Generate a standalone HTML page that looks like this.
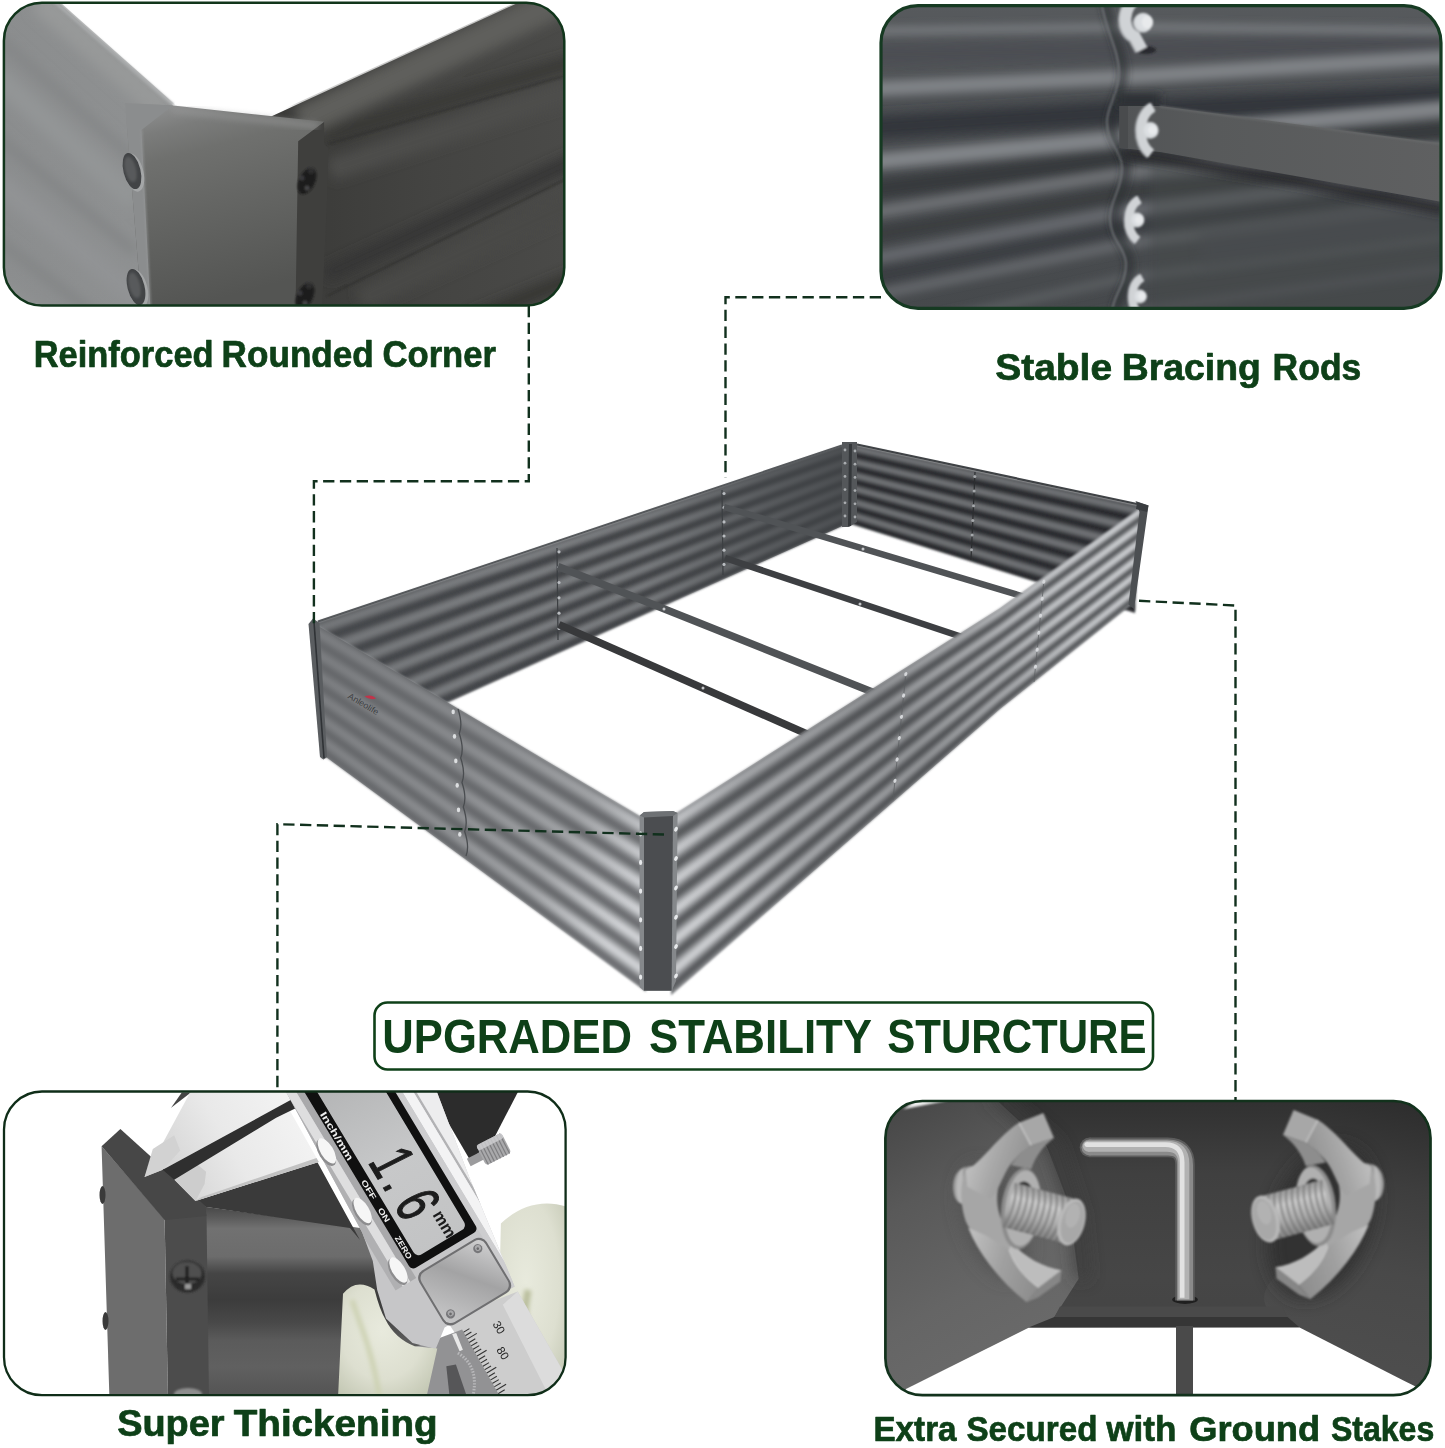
<!DOCTYPE html>
<html lang="en"><head><meta charset="utf-8"><title>Upgraded Stability Structure</title>
<style>
html,body{margin:0;padding:0;background:#fff;}
body{width:1445px;height:1448px;overflow:hidden;}
svg{display:block;}
</style></head><body>
<svg width="1445" height="1448" viewBox="0 0 1445 1448">
<defs>
<linearGradient id="ovFL" gradientUnits="userSpaceOnUse" x1="318" y1="690" x2="640" y2="900"><stop offset="0" stop-color="#646669" stop-opacity="0.78"/><stop offset="0.44" stop-color="#66686b" stop-opacity="0.66"/><stop offset="0.75" stop-color="#626467" stop-opacity="0.42"/><stop offset="0.93" stop-color="#626467" stop-opacity="0.08"/><stop offset="1" stop-color="#626467" stop-opacity="0"/></linearGradient><linearGradient id="ovFR" gradientUnits="userSpaceOnUse" x1="676" y1="900" x2="1136" y2="560"><stop offset="0" stop-color="#4c4e51" stop-opacity="0"/><stop offset="0.06" stop-color="#4c4e51" stop-opacity="0.05"/><stop offset="0.22" stop-color="#4c4e51" stop-opacity="0.32"/><stop offset="0.5" stop-color="#494b4e" stop-opacity="0.46"/><stop offset="0.7" stop-color="#505255" stop-opacity="0.3"/><stop offset="0.83" stop-color="#55575a" stop-opacity="0.1"/><stop offset="1" stop-color="#5d5f62" stop-opacity="0"/></linearGradient><linearGradient id="ovBL" gradientUnits="userSpaceOnUse" x1="318" y1="0" x2="848" y2="0"><stop offset="0" stop-color="#55585b" stop-opacity="0.25"/><stop offset="0.35" stop-color="#4a4d50" stop-opacity="0.05"/><stop offset="0.62" stop-color="#404346" stop-opacity="0.1"/><stop offset="0.85" stop-color="#404346" stop-opacity="0.6"/><stop offset="1" stop-color="#3e4144" stop-opacity="0.78"/></linearGradient><filter id="b1" x="-5%" y="-5%" width="110%" height="110%"><feGaussianBlur stdDeviation="0.9"/></filter>
<clipPath id="cp1"><rect x="3.9" y="2.8" width="560.4" height="302.8" rx="38" ry="38"/></clipPath><filter id="p1b6" x="-20%" y="-20%" width="140%" height="140%"><feGaussianBlur stdDeviation="6"/></filter><filter id="p1b3" x="-20%" y="-20%" width="140%" height="140%"><feGaussianBlur stdDeviation="3"/></filter><filter id="p1b1" x="-20%" y="-20%" width="140%" height="140%"><feGaussianBlur stdDeviation="1.2"/></filter><linearGradient id="p1cap" x1="0" y1="0" x2="0.25" y2="1"><stop offset="0" stop-color="#949595"/><stop offset="0.08" stop-color="#8a8b8b"/><stop offset="0.17" stop-color="#7b7c7b"/><stop offset="0.3" stop-color="#6f706e"/><stop offset="0.55" stop-color="#656664"/><stop offset="1" stop-color="#545553"/></linearGradient><linearGradient id="p1lw" x1="0" y1="0" x2="1" y2="0"><stop offset="0" stop-color="#8b8d8e"/><stop offset="1" stop-color="#8f9192"/></linearGradient><linearGradient id="p1rw" gradientUnits="userSpaceOnUse" x1="300" y1="100" x2="565" y2="100"><stop offset="0" stop-color="#3b3b39"/><stop offset="0.5" stop-color="#444442"/><stop offset="1" stop-color="#4a4a48"/></linearGradient>
<clipPath id="cp2"><rect x="881" y="5.7" width="560" height="302.6" rx="37" ry="37"/></clipPath><filter id="p2b8" filterUnits="userSpaceOnUse" x="850" y="-40" width="640" height="400"><feGaussianBlur stdDeviation="6"/></filter><filter id="p2b4" filterUnits="userSpaceOnUse" x="850" y="-40" width="640" height="400"><feGaussianBlur stdDeviation="4.2"/></filter><filter id="p2b1" filterUnits="userSpaceOnUse" x="850" y="-40" width="640" height="400"><feGaussianBlur stdDeviation="0.8"/></filter><linearGradient id="p2bg" x1="0" y1="0" x2="0" y2="1"><stop offset="0" stop-color="#575a5d"/><stop offset="0.3" stop-color="#4e5154"/><stop offset="1" stop-color="#46494c"/></linearGradient><linearGradient id="p2bar" gradientUnits="userSpaceOnUse" x1="1120" y1="0" x2="1442" y2="0"><stop offset="0" stop-color="#525456"/><stop offset="0.3" stop-color="#585a5b"/><stop offset="1" stop-color="#5f6061"/></linearGradient><g id="wnut1" fill="none"><path d="M-2 -27 C-21 -18 -22 8 -8 14 L-1 27" stroke="#a4a7ab" stroke-width="13" transform="translate(-1,0.5)"/><path d="M-2 -27 C-21 -18 -22 8 -8 14 L-1 27" stroke="#d0d3d6" stroke-width="11.5"/><circle cx="0" cy="0" r="9.8" fill="#d2d5d8"/><circle cx="1" cy="-0.5" r="8.2" fill="#dcdfe2"/><ellipse cx="4.5" cy="-0.5" rx="5.6" ry="6.6" fill="#e8eaec"/></g><g id="wnut" fill="none"><path d="M3 -24 C-13 -15 -13 13 1 23.5" stroke="#a4a7ab" stroke-width="11" transform="translate(-1,0.5)"/><path d="M3 -24 C-13 -15 -13 13 1 23.5" stroke="#d0d3d6" stroke-width="9.6"/><circle cx="0" cy="0" r="8.6" fill="#d2d5d8"/><circle cx="0.8" cy="-0.3" r="7.2" fill="#dcdfe2"/><circle cx="2.5" cy="-0.3" r="4.6" fill="#e8eaec"/></g>
<clipPath id="cp3"><rect x="4" y="1091.5" width="561.6" height="303.7" rx="38" ry="38"/></clipPath><filter id="p3b5" filterUnits="userSpaceOnUse" x="-20" y="1060" width="620" height="370"><feGaussianBlur stdDeviation="5"/></filter><filter id="p3b2" filterUnits="userSpaceOnUse" x="-20" y="1060" width="620" height="370"><feGaussianBlur stdDeviation="2"/></filter><filter id="p3b1" filterUnits="userSpaceOnUse" x="-20" y="1060" width="620" height="370"><feGaussianBlur stdDeviation="0.8"/></filter><linearGradient id="p3wall" gradientUnits="userSpaceOnUse" x1="0" y1="1206" x2="0" y2="1393"><stop offset="0" stop-color="#474747"/><stop offset="0.06" stop-color="#5a5a5a"/><stop offset="0.12" stop-color="#717171"/><stop offset="0.27" stop-color="#6c6c6c"/><stop offset="0.36" stop-color="#454545"/><stop offset="0.5" stop-color="#3c3c3c"/><stop offset="0.62" stop-color="#484848"/><stop offset="0.72" stop-color="#5b5b5b"/><stop offset="0.86" stop-color="#606060"/><stop offset="1" stop-color="#555555"/></linearGradient><linearGradient id="p3body" gradientUnits="userSpaceOnUse" x1="0" y1="30" x2="0" y2="-115"><stop offset="0" stop-color="#b9b9bb"/><stop offset="0.1" stop-color="#e4e4e6"/><stop offset="0.2" stop-color="#c2c2c4"/><stop offset="0.75" stop-color="#cfcfd1"/><stop offset="0.85" stop-color="#f2f2f3"/><stop offset="1" stop-color="#c9c9cb"/></linearGradient><linearGradient id="p3lcd" gradientUnits="userSpaceOnUse" x1="-200" y1="0" x2="0" y2="0"><stop offset="0" stop-color="#b4b5b6"/><stop offset="0.5" stop-color="#c7c8c9"/><stop offset="1" stop-color="#c2c3c4"/></linearGradient><linearGradient id="p3plate" gradientUnits="userSpaceOnUse" x1="8" y1="-77" x2="67" y2="-3"><stop offset="0" stop-color="#d2d2d3"/><stop offset="0.45" stop-color="#a3a3a4"/><stop offset="1" stop-color="#c8c8c9"/></linearGradient><linearGradient id="p3jaw" gradientUnits="userSpaceOnUse" x1="150" y1="1180" x2="300" y2="1095"><stop offset="0" stop-color="#cfcfcf"/><stop offset="0.5" stop-color="#e9e9e9"/><stop offset="1" stop-color="#f4f4f4"/></linearGradient><radialGradient id="p3glv" cx="0.45" cy="0.4" r="0.7"><stop offset="0" stop-color="#e8eadd"/><stop offset="0.6" stop-color="#dddfd0"/><stop offset="1" stop-color="#c3c7b3"/></radialGradient>
<clipPath id="cp4"><rect x="885.4" y="1101" width="545.1" height="294.2" rx="37" ry="37"/></clipPath><filter id="p4b8" filterUnits="userSpaceOnUse" x="860" y="1080" width="600" height="340"><feGaussianBlur stdDeviation="8"/></filter><filter id="p4b3" filterUnits="userSpaceOnUse" x="860" y="1080" width="600" height="340"><feGaussianBlur stdDeviation="3"/></filter><filter id="p4b1" filterUnits="userSpaceOnUse" x="860" y="1080" width="600" height="340"><feGaussianBlur stdDeviation="0.9"/></filter><filter id="p4b05" filterUnits="userSpaceOnUse" x="860" y="1080" width="600" height="340"><feGaussianBlur stdDeviation="0.5"/></filter><linearGradient id="p4bg" x1="0" y1="0" x2="0" y2="1"><stop offset="0" stop-color="#303030"/><stop offset="0.25" stop-color="#404040"/><stop offset="0.6" stop-color="#464646"/><stop offset="1" stop-color="#414141"/></linearGradient><linearGradient id="p4lw" gradientUnits="userSpaceOnUse" x1="890" y1="1110" x2="1040" y2="1370"><stop offset="0" stop-color="#474747"/><stop offset="0.3" stop-color="#595959"/><stop offset="0.65" stop-color="#656565"/><stop offset="1" stop-color="#6b6b6b"/></linearGradient><linearGradient id="p4rw" gradientUnits="userSpaceOnUse" x1="1400" y1="1100" x2="1340" y2="1380"><stop offset="0" stop-color="#2d2d2d"/><stop offset="0.3" stop-color="#3e3e3e"/><stop offset="0.6" stop-color="#494949"/><stop offset="1" stop-color="#4e4e4e"/></linearGradient><linearGradient id="p4keyh" x1="0" y1="0" x2="0" y2="1"><stop offset="0" stop-color="#8c8c8c"/><stop offset="0.25" stop-color="#e6e6e6"/><stop offset="0.55" stop-color="#b5b5b5"/><stop offset="1" stop-color="#6e6e6e"/></linearGradient><linearGradient id="p4keyv" x1="0" y1="0" x2="1" y2="0"><stop offset="0" stop-color="#7a7a7a"/><stop offset="0.3" stop-color="#e9e9e9"/><stop offset="0.6" stop-color="#b0b0b0"/><stop offset="1" stop-color="#757575"/></linearGradient><linearGradient id="p4bolt" x1="0" y1="0" x2="0" y2="1"><stop offset="0" stop-color="#8a8a8a"/><stop offset="0.3" stop-color="#c9c9c9"/><stop offset="0.65" stop-color="#a5a5a5"/><stop offset="1" stop-color="#6c6c6c"/></linearGradient><linearGradient id="p4wing" x1="0" y1="0.3" x2="1" y2="0.7"><stop offset="0" stop-color="#c6c6c6"/><stop offset="0.45" stop-color="#a8a8a8"/><stop offset="1" stop-color="#8c8c8c"/></linearGradient><linearGradient id="p4wing2" x1="0" y1="0.3" x2="1" y2="0.6"><stop offset="0" stop-color="#bdbdbd"/><stop offset="0.5" stop-color="#a0a0a0"/><stop offset="1" stop-color="#8e8e8e"/></linearGradient><g id="bignut"><g transform="scale(0.15198)"><path d="M175 440 C110 450 78 520 88 600 C95 655 120 692 185 692 Z" fill="#9b9b9b"/><path d="M150 450 C118 470 100 540 108 610 C112 650 125 675 150 685 Z" fill="#b9b9b9"/><path d="M180 440 C140 520 120 640 170 800 C200 870 250 910 300 915 L470 1000 L480 900 C380 800 350 650 400 520 L330 415 Z" fill="#a6a6a6"/><path d="M170 462 C230 440 300 350 400 250 C440 210 480 175 520 150 L600 300 C540 340 470 400 430 480 C400 540 380 600 330 650 L180 570 Z" fill="url(#p4wing)"/><path d="M520 150 L680 85 L750 250 L600 300 Z" fill="#a7a7a7"/><path d="M520 150 L600 300" stroke="#d4d4d4" stroke-width="7" fill="none"/><path d="M600 300 L750 250 C670 310 625 380 600 455 L468 430 C510 365 550 330 600 300 Z" fill="#8d8d8d"/><path d="M185 840 C250 1000 380 1180 570 1330 L650 1235 C560 1170 490 1090 455 985 L300 890 Z" fill="url(#p4wing2)"/><path d="M455 985 C490 1090 560 1170 650 1235 L800 1120 C680 1100 560 1040 470 935 Z" fill="#bdbdbd"/><path d="M455 985 C490 1090 560 1170 650 1235" stroke="#d6d6d6" stroke-width="6" fill="none"/><path d="M650 1235 L800 1120 L792 1195 L645 1300 L570 1330 Z" fill="#868686"/><ellipse cx="535" cy="715" rx="132" ry="268" fill="#8c8c8c" transform="rotate(6 535 715)"/><ellipse cx="546" cy="712" rx="116" ry="250" fill="#b0b0b0" transform="rotate(6 546 712)"/><ellipse cx="540" cy="700" rx="80" ry="165" fill="#303030" transform="rotate(6 540 700)"/><g transform="translate(452,690) rotate(15)"><rect x="0" y="-150" width="430" height="300" fill="url(#p4bolt)"/><path d="M10 -150 C38 -60 38 60 10 150" stroke="#808080" stroke-width="11" fill="none"/><path d="M24 -150 C52 -60 52 60 24 150" stroke="#c4c4c4" stroke-width="6" fill="none" opacity="0.7"/><path d="M50 -150 C78 -60 78 60 50 150" stroke="#808080" stroke-width="11" fill="none"/><path d="M64 -150 C92 -60 92 60 64 150" stroke="#c4c4c4" stroke-width="6" fill="none" opacity="0.7"/><path d="M90 -150 C118 -60 118 60 90 150" stroke="#808080" stroke-width="11" fill="none"/><path d="M104 -150 C132 -60 132 60 104 150" stroke="#c4c4c4" stroke-width="6" fill="none" opacity="0.7"/><path d="M130 -150 C158 -60 158 60 130 150" stroke="#808080" stroke-width="11" fill="none"/><path d="M144 -150 C172 -60 172 60 144 150" stroke="#c4c4c4" stroke-width="6" fill="none" opacity="0.7"/><path d="M170 -150 C198 -60 198 60 170 150" stroke="#808080" stroke-width="11" fill="none"/><path d="M184 -150 C212 -60 212 60 184 150" stroke="#c4c4c4" stroke-width="6" fill="none" opacity="0.7"/><path d="M210 -150 C238 -60 238 60 210 150" stroke="#808080" stroke-width="11" fill="none"/><path d="M224 -150 C252 -60 252 60 224 150" stroke="#c4c4c4" stroke-width="6" fill="none" opacity="0.7"/><path d="M250 -150 C278 -60 278 60 250 150" stroke="#808080" stroke-width="11" fill="none"/><path d="M264 -150 C292 -60 292 60 264 150" stroke="#c4c4c4" stroke-width="6" fill="none" opacity="0.7"/><path d="M290 -150 C318 -60 318 60 290 150" stroke="#808080" stroke-width="11" fill="none"/><path d="M304 -150 C332 -60 332 60 304 150" stroke="#c4c4c4" stroke-width="6" fill="none" opacity="0.7"/><path d="M330 -150 C358 -60 358 60 330 150" stroke="#808080" stroke-width="11" fill="none"/><path d="M344 -150 C372 -60 372 60 344 150" stroke="#c4c4c4" stroke-width="6" fill="none" opacity="0.7"/><path d="M370 -150 C398 -60 398 60 370 150" stroke="#808080" stroke-width="11" fill="none"/><path d="M384 -150 C412 -60 412 60 384 150" stroke="#c4c4c4" stroke-width="6" fill="none" opacity="0.7"/><ellipse cx="428" cy="2" rx="88" ry="158" fill="#b9b9b9"/><ellipse cx="436" cy="2" rx="72" ry="140" fill="#a8a8a8"/><ellipse cx="425" cy="-40" rx="45" ry="80" fill="#b6b6b6" opacity="0.7"/></g></g></g>
</defs>
<rect width="1445" height="1448" fill="#ffffff"/>
<g filter="url(#b1)"><polygon points="314.0,623.3 848.0,444.0 847.9,446.3 314.2,627.2" fill="#606265" /><polygon points="314.1,625.6 848.0,445.3 847.9,447.6 314.4,629.4" fill="#727477" /><polygon points="314.3,627.8 847.9,446.7 847.9,449.0 314.5,631.7" fill="#7d7f82" /><polygon points="314.4,630.1 847.9,448.0 847.8,450.3 314.6,634.0" fill="#7d7f82" /><polygon points="314.5,632.3 847.9,449.4 847.8,451.7 314.8,636.2" fill="#727477" /><polygon points="314.7,634.6 847.8,450.7 847.8,453.0 314.9,638.5" fill="#606265" /><polygon points="314.8,636.8 847.8,452.0 847.7,454.3 315.0,640.7" fill="#4e5053" /><polygon points="314.9,639.1 847.8,453.4 847.7,455.7 315.2,643.0" fill="#434548" /><polygon points="315.1,641.4 847.7,454.7 847.7,457.0 315.3,645.3" fill="#434548" /><polygon points="315.2,643.6 847.7,456.0 847.6,458.3 315.4,647.5" fill="#4e5053" /><polygon points="315.3,645.9 847.7,457.4 847.6,459.7 315.6,649.8" fill="#606265" /><polygon points="315.5,648.1 847.6,458.7 847.6,461.0 315.7,652.0" fill="#727477" /><polygon points="315.6,650.4 847.6,460.1 847.5,462.4 315.8,654.3" fill="#7d7f82" /><polygon points="315.7,652.7 847.6,461.4 847.5,463.7 316.0,656.5" fill="#7d7f82" /><polygon points="315.9,654.9 847.5,462.7 847.5,465.0 316.1,658.8" fill="#727477" /><polygon points="316.0,657.2 847.5,464.1 847.4,466.4 316.2,661.1" fill="#606265" /><polygon points="316.1,659.4 847.5,465.4 847.4,467.7 316.4,663.3" fill="#4e5053" /><polygon points="316.3,661.7 847.4,466.8 847.4,469.1 316.5,665.6" fill="#434548" /><polygon points="316.4,663.9 847.4,468.1 847.3,470.4 316.6,667.8" fill="#434548" /><polygon points="316.5,666.2 847.4,469.4 847.3,471.7 316.8,670.1" fill="#4e5053" /><polygon points="316.7,668.5 847.3,470.8 847.3,473.1 316.9,672.4" fill="#606265" /><polygon points="316.8,670.7 847.3,472.1 847.2,474.4 317.0,674.6" fill="#727477" /><polygon points="316.9,673.0 847.3,473.4 847.2,475.7 317.2,676.9" fill="#7d7f82" /><polygon points="317.1,675.2 847.2,474.8 847.2,477.1 317.3,679.1" fill="#7d7f82" /><polygon points="317.2,677.5 847.2,476.1 847.1,478.4 317.4,681.4" fill="#727477" /><polygon points="317.3,679.8 847.2,477.5 847.1,479.8 317.6,683.6" fill="#606265" /><polygon points="317.5,682.0 847.1,478.8 847.1,481.1 317.7,685.9" fill="#4e5053" /><polygon points="317.6,684.3 847.1,480.1 847.0,482.4 317.8,688.2" fill="#434548" /><polygon points="317.7,686.5 847.1,481.5 847.0,483.8 318.0,690.4" fill="#434548" /><polygon points="317.9,688.8 847.0,482.8 847.0,485.1 318.1,692.7" fill="#4e5053" /><polygon points="318.0,691.0 847.0,484.1 846.9,486.5 318.2,694.9" fill="#606265" /><polygon points="318.1,693.3 847.0,485.5 846.9,487.8 318.4,697.2" fill="#727477" /><polygon points="318.3,695.6 846.9,486.8 846.9,489.1 318.5,699.5" fill="#7d7f82" /><polygon points="318.4,697.8 846.9,488.2 846.8,490.5 318.6,701.7" fill="#7d7f82" /><polygon points="318.5,700.1 846.9,489.5 846.8,491.8 318.8,704.0" fill="#727477" /><polygon points="318.7,702.3 846.8,490.8 846.8,493.1 318.9,706.2" fill="#606265" /><polygon points="318.8,704.6 846.8,492.2 846.7,494.5 319.0,708.5" fill="#4e5053" /><polygon points="318.9,706.9 846.8,493.5 846.7,495.8 319.2,710.7" fill="#434548" /><polygon points="319.1,709.1 846.7,494.9 846.7,497.2 319.3,713.0" fill="#434548" /><polygon points="319.2,711.4 846.7,496.2 846.6,498.5 319.4,715.3" fill="#4e5053" /><polygon points="319.3,713.6 846.7,497.5 846.6,499.8 319.6,717.5" fill="#606265" /><polygon points="319.5,715.9 846.6,498.9 846.6,501.2 319.7,719.8" fill="#727477" /><polygon points="319.6,718.1 846.6,500.2 846.5,502.5 319.8,722.0" fill="#7d7f82" /><polygon points="319.7,720.4 846.6,501.5 846.5,503.9 320.0,724.3" fill="#7d7f82" /><polygon points="319.9,722.7 846.5,502.9 846.5,505.2 320.1,726.6" fill="#727477" /><polygon points="320.0,724.9 846.5,504.2 846.4,506.5 320.2,728.8" fill="#606265" /><polygon points="320.1,727.2 846.5,505.6 846.4,507.9 320.4,731.1" fill="#4e5053" /><polygon points="320.3,729.4 846.4,506.9 846.4,509.2 320.5,733.3" fill="#434548" /><polygon points="320.4,731.7 846.4,508.2 846.3,510.5 320.6,735.6" fill="#434548" /><polygon points="320.5,734.0 846.4,509.6 846.3,511.9 320.8,737.8" fill="#4e5053" /><polygon points="320.7,736.2 846.3,510.9 846.3,513.2 320.9,740.1" fill="#606265" /><polygon points="320.8,738.5 846.3,512.3 846.2,514.6 321.0,742.4" fill="#727477" /><polygon points="320.9,740.7 846.3,513.6 846.2,515.9 321.2,744.6" fill="#7d7f82" /><polygon points="321.1,743.0 846.2,514.9 846.2,517.2 321.3,746.9" fill="#7d7f82" /><polygon points="321.2,745.2 846.2,516.3 846.1,518.6 321.4,749.1" fill="#727477" /><polygon points="321.3,747.5 846.2,517.6 846.1,519.9 321.6,751.4" fill="#606265" /><polygon points="321.5,749.8 846.1,518.9 846.1,521.2 321.7,753.7" fill="#4e5053" /><polygon points="321.6,752.0 846.1,520.3 846.0,522.6 321.8,755.9" fill="#434548" /><polygon points="321.7,754.3 846.1,521.6 846.0,523.9 322.0,758.2" fill="#434548" /><polygon points="321.9,756.5 846.0,523.0 846.0,524.3 322.0,758.8" fill="#4e5053" /><polygon points="852.0,444.0 1140.0,505.6 1139.9,508.7 851.8,446.3" fill="#4c4e51" /><polygon points="851.9,445.3 1139.9,507.4 1139.8,510.5 851.7,447.6" fill="#616366" /><polygon points="851.8,446.6 1139.8,509.2 1139.7,512.3 851.6,448.9" fill="#6e7073" /><polygon points="851.7,447.9 1139.8,511.0 1139.6,514.0 851.5,450.2" fill="#6e7073" /><polygon points="851.6,449.2 1139.7,512.8 1139.5,515.8 851.4,451.5" fill="#616366" /><polygon points="851.5,450.5 1139.6,514.6 1139.4,517.6 851.3,452.8" fill="#4c4e51" /><polygon points="851.4,451.9 1139.5,516.3 1139.4,519.4 851.2,454.1" fill="#37393c" /><polygon points="851.3,453.2 1139.4,518.1 1139.3,521.2 851.1,455.4" fill="#2a2c2f" /><polygon points="851.2,454.5 1139.3,519.9 1139.2,523.0 851.0,456.7" fill="#2a2c2f" /><polygon points="851.1,455.8 1139.2,521.7 1139.1,524.8 850.9,458.0" fill="#37393c" /><polygon points="851.0,457.1 1139.2,523.5 1139.0,526.6 850.8,459.3" fill="#4c4e51" /><polygon points="850.9,458.4 1139.1,525.3 1138.9,528.4 850.7,460.6" fill="#616366" /><polygon points="850.8,459.7 1139.0,527.1 1138.9,530.2 850.6,462.0" fill="#6e7073" /><polygon points="850.7,461.0 1138.9,528.9 1138.8,531.9 850.5,463.3" fill="#6e7073" /><polygon points="850.6,462.3 1138.8,530.7 1138.7,533.7 850.4,464.6" fill="#616366" /><polygon points="850.5,463.6 1138.8,532.5 1138.6,535.5 850.3,465.9" fill="#4c4e51" /><polygon points="850.4,464.9 1138.7,534.2 1138.5,537.3 850.2,467.2" fill="#37393c" /><polygon points="850.3,466.2 1138.6,536.0 1138.4,539.1 850.1,468.5" fill="#2a2c2f" /><polygon points="850.2,467.6 1138.5,537.8 1138.4,540.9 850.0,469.8" fill="#2a2c2f" /><polygon points="850.1,468.9 1138.4,539.6 1138.3,542.7 849.9,471.1" fill="#37393c" /><polygon points="850.0,470.2 1138.3,541.4 1138.2,544.5 849.8,472.4" fill="#4c4e51" /><polygon points="849.9,471.5 1138.2,543.2 1138.1,546.3 849.7,473.7" fill="#616366" /><polygon points="849.8,472.8 1138.2,545.0 1138.0,548.1 849.6,475.0" fill="#6e7073" /><polygon points="849.7,474.1 1138.1,546.8 1137.9,549.8 849.5,476.3" fill="#6e7073" /><polygon points="849.6,475.4 1138.0,548.6 1137.9,551.6 849.4,477.7" fill="#616366" /><polygon points="849.5,476.7 1137.9,550.4 1137.8,553.4 849.3,479.0" fill="#4c4e51" /><polygon points="849.4,478.0 1137.8,552.1 1137.7,555.2 849.2,480.3" fill="#37393c" /><polygon points="849.3,479.3 1137.8,553.9 1137.6,557.0 849.1,481.6" fill="#2a2c2f" /><polygon points="849.2,480.6 1137.7,555.7 1137.5,558.8 849.0,482.9" fill="#2a2c2f" /><polygon points="849.1,481.9 1137.6,557.5 1137.4,560.6 848.9,484.2" fill="#37393c" /><polygon points="849.0,483.2 1137.5,559.3 1137.4,562.4 848.8,485.5" fill="#4c4e51" /><polygon points="848.9,484.6 1137.4,561.1 1137.3,564.2 848.7,486.8" fill="#616366" /><polygon points="848.8,485.9 1137.3,562.9 1137.2,566.0 848.6,488.1" fill="#6e7073" /><polygon points="848.7,487.2 1137.2,564.7 1137.1,567.7 848.5,489.4" fill="#6e7073" /><polygon points="848.6,488.5 1137.2,566.5 1137.0,569.5 848.4,490.7" fill="#616366" /><polygon points="848.5,489.8 1137.1,568.2 1136.9,571.3 848.3,492.0" fill="#4c4e51" /><polygon points="848.4,491.1 1137.0,570.0 1136.9,573.1 848.2,493.4" fill="#37393c" /><polygon points="848.3,492.4 1136.9,571.8 1136.8,574.9 848.1,494.7" fill="#2a2c2f" /><polygon points="848.2,493.7 1136.8,573.6 1136.7,576.7 848.0,496.0" fill="#2a2c2f" /><polygon points="848.1,495.0 1136.8,575.4 1136.6,578.5 847.9,497.3" fill="#37393c" /><polygon points="848.0,496.3 1136.7,577.2 1136.5,580.3 847.8,498.6" fill="#4c4e51" /><polygon points="847.9,497.6 1136.6,579.0 1136.4,582.1 847.7,499.9" fill="#616366" /><polygon points="847.8,498.9 1136.5,580.8 1136.4,583.9 847.6,501.2" fill="#6e7073" /><polygon points="847.7,500.3 1136.4,582.6 1136.3,585.6 847.5,502.5" fill="#6e7073" /><polygon points="847.6,501.6 1136.3,584.4 1136.2,587.4 847.4,503.8" fill="#616366" /><polygon points="847.5,502.9 1136.2,586.1 1136.1,589.2 847.3,505.1" fill="#4c4e51" /><polygon points="847.4,504.2 1136.2,587.9 1136.0,591.0 847.2,506.4" fill="#37393c" /><polygon points="847.3,505.5 1136.1,589.7 1135.9,592.8 847.1,507.7" fill="#2a2c2f" /><polygon points="847.2,506.8 1136.0,591.5 1135.9,594.6 847.0,509.1" fill="#2a2c2f" /><polygon points="847.1,508.1 1135.9,593.3 1135.8,596.4 846.9,510.4" fill="#37393c" /><polygon points="847.0,509.4 1135.8,595.1 1135.7,598.2 846.8,511.7" fill="#4c4e51" /><polygon points="846.9,510.7 1135.8,596.9 1135.6,600.0 846.7,513.0" fill="#616366" /><polygon points="846.8,512.0 1135.7,598.7 1135.5,601.8 846.6,514.3" fill="#6e7073" /><polygon points="846.7,513.3 1135.6,600.5 1135.4,603.5 846.5,515.6" fill="#6e7073" /><polygon points="846.6,514.6 1135.5,602.3 1135.4,605.3 846.4,516.9" fill="#616366" /><polygon points="846.5,516.0 1135.4,604.0 1135.3,607.1 846.3,518.2" fill="#4c4e51" /><polygon points="846.4,517.3 1135.3,605.8 1135.2,608.9 846.2,519.5" fill="#37393c" /><polygon points="846.3,518.6 1135.2,607.6 1135.1,610.7 846.1,520.8" fill="#2a2c2f" /><polygon points="846.2,519.9 1135.2,609.4 1135.0,612.5 846.0,522.1" fill="#2a2c2f" /><polygon points="846.1,521.2 1135.1,611.2 1135.0,613.0 846.0,522.5" fill="#37393c" /></g><polygon points="314.0,623.3 848.0,444.0 846.0,524.3 322.0,758.8" fill="url(#ovBL)" /><path d="M318 621.5 L842 445.5" stroke="#55585b" stroke-width="2" fill="none"/><path d="M857 444.5 L1137 504" stroke="#3f4245" stroke-width="2.2" fill="none"/><path d="M557 548 L558 640" stroke="#3c3f42" stroke-width="1.2" fill="none"/><circle cx="559.0" cy="551.8" r="1.6" fill="#b9bcc0"/><circle cx="559.0" cy="567.2" r="1.6" fill="#b9bcc0"/><circle cx="559.0" cy="582.5" r="1.6" fill="#b9bcc0"/><circle cx="559.0" cy="597.8" r="1.6" fill="#b9bcc0"/><circle cx="559.0" cy="613.2" r="1.6" fill="#b9bcc0"/><circle cx="559.0" cy="628.5" r="1.6" fill="#b9bcc0"/><path d="M722 490 L723 575" stroke="#3c3f42" stroke-width="1.2" fill="none"/><circle cx="724.0" cy="493.5" r="1.6" fill="#b9bcc0"/><circle cx="724.0" cy="507.7" r="1.6" fill="#b9bcc0"/><circle cx="724.0" cy="521.9" r="1.6" fill="#b9bcc0"/><circle cx="724.0" cy="536.0" r="1.6" fill="#b9bcc0"/><circle cx="724.0" cy="550.2" r="1.6" fill="#b9bcc0"/><circle cx="724.0" cy="564.4" r="1.6" fill="#b9bcc0"/><path d="M975 472 L971 560" stroke="#2c2e30" stroke-width="1.2" fill="none"/><circle cx="974.8" cy="476.4" r="1.5" fill="#a5a8ab"/><circle cx="974.1" cy="491.1" r="1.5" fill="#a5a8ab"/><circle cx="973.5" cy="505.7" r="1.5" fill="#a5a8ab"/><circle cx="972.8" cy="520.4" r="1.5" fill="#a5a8ab"/><circle cx="972.1" cy="535.1" r="1.5" fill="#a5a8ab"/><circle cx="971.5" cy="549.7" r="1.5" fill="#a5a8ab"/><path d="M724 507 L1075 612" stroke="#505356" stroke-width="6.5" fill="none"/><path d="M725 558 L1040 663" stroke="#3d3f42" stroke-width="6.5" fill="none"/><path d="M558 566.5 L930 715" stroke="#505356" stroke-width="7.5" fill="none"/><path d="M559 624.6 L850 753" stroke="#38393b" stroke-width="7.5" fill="none"/><circle cx="863" cy="549" r="1.5" fill="#c5c7ca"/><circle cx="860" cy="604" r="1.5" fill="#c5c7ca"/><circle cx="664" cy="609" r="1.5" fill="#c5c7ca"/><circle cx="703" cy="688" r="1.5" fill="#c5c7ca"/><polygon points="842.0,442.0 857.0,442.0 857.0,522.0 849.0,527.0 842.0,527.0" fill="#54575a" /><polygon points="849.0,444.0 852.0,444.0 851.0,526.0 848.0,526.0" fill="#34373a" /><circle cx="845" cy="450.0" r="1.4" fill="#a9acaf"/><circle cx="855" cy="451.0" r="1.4" fill="#a9acaf"/><circle cx="845" cy="463.2" r="1.4" fill="#a9acaf"/><circle cx="855" cy="464.2" r="1.4" fill="#a9acaf"/><circle cx="845" cy="476.4" r="1.4" fill="#a9acaf"/><circle cx="855" cy="477.4" r="1.4" fill="#a9acaf"/><circle cx="845" cy="489.6" r="1.4" fill="#a9acaf"/><circle cx="855" cy="490.6" r="1.4" fill="#a9acaf"/><circle cx="845" cy="502.8" r="1.4" fill="#a9acaf"/><circle cx="855" cy="503.8" r="1.4" fill="#a9acaf"/><circle cx="845" cy="516.0" r="1.4" fill="#a9acaf"/><circle cx="855" cy="517.0" r="1.4" fill="#a9acaf"/><g filter="url(#b1)"><polygon points="314.0,623.6 645.0,819.0 645.0,823.5 314.2,627.0" fill="#939598" /><polygon points="314.1,625.4 645.0,821.4 645.0,825.9 314.3,628.8" fill="#abadb0" /><polygon points="314.2,627.2 645.0,823.8 645.1,828.3 314.4,630.6" fill="#c1c3c6" /><polygon points="314.3,629.0 645.0,826.2 645.1,830.7 314.5,632.4" fill="#cdcfd2" /><polygon points="314.4,630.8 645.1,828.6 645.1,833.1 314.7,634.2" fill="#ccced1" /><polygon points="314.6,632.7 645.1,831.0 645.1,835.5 314.8,636.0" fill="#bfc1c4" /><polygon points="314.7,634.5 645.1,833.4 645.1,837.9 314.9,637.8" fill="#a9abae" /><polygon points="314.8,636.3 645.1,835.8 645.1,840.3 315.0,639.7" fill="#919396" /><polygon points="314.9,638.1 645.1,838.2 645.1,842.7 315.1,641.5" fill="#7b7d80" /><polygon points="315.0,639.9 645.1,840.6 645.2,845.1 315.2,643.3" fill="#6f7174" /><polygon points="315.1,641.7 645.1,843.0 645.2,847.5 315.3,645.1" fill="#707275" /><polygon points="315.2,643.5 645.2,845.4 645.2,849.9 315.4,646.9" fill="#7d7f82" /><polygon points="315.3,645.3 645.2,847.8 645.2,852.3 315.5,648.7" fill="#939598" /><polygon points="315.4,647.1 645.2,850.2 645.2,854.7 315.7,650.5" fill="#abadb0" /><polygon points="315.6,649.0 645.2,852.6 645.2,857.1 315.8,652.3" fill="#c1c3c6" /><polygon points="315.7,650.8 645.2,855.0 645.2,859.5 315.9,654.1" fill="#cdcfd2" /><polygon points="315.8,652.6 645.2,857.4 645.2,861.8 316.0,656.0" fill="#ccced1" /><polygon points="315.9,654.4 645.2,859.8 645.3,864.2 316.1,657.8" fill="#bfc1c4" /><polygon points="316.0,656.2 645.2,862.2 645.3,866.6 316.2,659.6" fill="#a9abae" /><polygon points="316.1,658.0 645.3,864.6 645.3,869.0 316.3,661.4" fill="#919396" /><polygon points="316.2,659.8 645.3,867.0 645.3,871.4 316.4,663.2" fill="#7b7d80" /><polygon points="316.3,661.6 645.3,869.4 645.3,873.8 316.5,665.0" fill="#6f7174" /><polygon points="316.4,663.4 645.3,871.8 645.3,876.2 316.7,666.8" fill="#707275" /><polygon points="316.6,665.3 645.3,874.2 645.3,878.6 316.8,668.6" fill="#7d7f82" /><polygon points="316.7,667.1 645.3,876.6 645.4,881.0 316.9,670.4" fill="#939598" /><polygon points="316.8,668.9 645.3,879.0 645.4,883.4 317.0,672.3" fill="#abadb0" /><polygon points="316.9,670.7 645.4,881.4 645.4,885.8 317.1,674.1" fill="#c1c3c6" /><polygon points="317.0,672.5 645.4,883.8 645.4,888.2 317.2,675.9" fill="#cdcfd2" /><polygon points="317.1,674.3 645.4,886.2 645.4,890.6 317.3,677.7" fill="#ccced1" /><polygon points="317.2,676.1 645.4,888.6 645.4,893.0 317.4,679.5" fill="#bfc1c4" /><polygon points="317.3,677.9 645.4,891.0 645.4,895.4 317.5,681.3" fill="#a9abae" /><polygon points="317.4,679.7 645.4,893.4 645.5,897.8 317.7,683.1" fill="#919396" /><polygon points="317.6,681.6 645.4,895.8 645.5,900.2 317.8,684.9" fill="#7b7d80" /><polygon points="317.7,683.4 645.5,898.2 645.5,902.6 317.9,686.7" fill="#6f7174" /><polygon points="317.8,685.2 645.5,900.6 645.5,905.0 318.0,688.6" fill="#707275" /><polygon points="317.9,687.0 645.5,903.0 645.5,907.4 318.1,690.4" fill="#7d7f82" /><polygon points="318.0,688.8 645.5,905.4 645.5,909.8 318.2,692.2" fill="#939598" /><polygon points="318.1,690.6 645.5,907.7 645.5,912.2 318.3,694.0" fill="#abadb0" /><polygon points="318.2,692.4 645.5,910.1 645.6,914.6 318.4,695.8" fill="#c1c3c6" /><polygon points="318.3,694.2 645.5,912.5 645.6,917.0 318.5,697.6" fill="#cdcfd2" /><polygon points="318.4,696.0 645.6,914.9 645.6,919.4 318.7,699.4" fill="#ccced1" /><polygon points="318.6,697.9 645.6,917.3 645.6,921.8 318.8,701.2" fill="#bfc1c4" /><polygon points="318.7,699.7 645.6,919.7 645.6,924.2 318.9,703.0" fill="#a9abae" /><polygon points="318.8,701.5 645.6,922.1 645.6,926.6 319.0,704.9" fill="#919396" /><polygon points="318.9,703.3 645.6,924.5 645.6,929.0 319.1,706.7" fill="#7b7d80" /><polygon points="319.0,705.1 645.6,926.9 645.7,931.4 319.2,708.5" fill="#6f7174" /><polygon points="319.1,706.9 645.6,929.3 645.7,933.8 319.3,710.3" fill="#707275" /><polygon points="319.2,708.7 645.7,931.7 645.7,936.2 319.4,712.1" fill="#7d7f82" /><polygon points="319.3,710.5 645.7,934.1 645.7,938.6 319.5,713.9" fill="#939598" /><polygon points="319.4,712.3 645.7,936.5 645.7,941.0 319.7,715.7" fill="#abadb0" /><polygon points="319.6,714.2 645.7,938.9 645.7,943.4 319.8,717.5" fill="#c1c3c6" /><polygon points="319.7,716.0 645.7,941.3 645.7,945.8 319.9,719.3" fill="#cdcfd2" /><polygon points="319.8,717.8 645.7,943.7 645.7,948.2 320.0,721.2" fill="#ccced1" /><polygon points="319.9,719.6 645.7,946.1 645.8,950.6 320.1,723.0" fill="#bfc1c4" /><polygon points="320.0,721.4 645.8,948.5 645.8,953.0 320.2,724.8" fill="#a9abae" /><polygon points="320.1,723.2 645.8,950.9 645.8,955.4 320.3,726.6" fill="#919396" /><polygon points="320.2,725.0 645.8,953.3 645.8,957.8 320.4,728.4" fill="#7b7d80" /><polygon points="320.3,726.8 645.8,955.7 645.8,960.2 320.5,730.2" fill="#6f7174" /><polygon points="320.4,728.6 645.8,958.1 645.8,962.6 320.7,732.0" fill="#707275" /><polygon points="320.6,730.5 645.8,960.5 645.8,965.0 320.8,733.8" fill="#7d7f82" /><polygon points="320.7,732.3 645.8,962.9 645.9,967.4 320.9,735.6" fill="#939598" /><polygon points="320.8,734.1 645.8,965.3 645.9,969.8 321.0,737.5" fill="#abadb0" /><polygon points="320.9,735.9 645.9,967.7 645.9,972.2 321.1,739.3" fill="#c1c3c6" /><polygon points="321.0,737.7 645.9,970.1 645.9,974.6 321.2,741.1" fill="#cdcfd2" /><polygon points="321.1,739.5 645.9,972.5 645.9,977.0 321.3,742.9" fill="#ccced1" /><polygon points="321.2,741.3 645.9,974.9 645.9,979.4 321.4,744.7" fill="#bfc1c4" /><polygon points="321.3,743.1 645.9,977.3 645.9,981.8 321.5,746.5" fill="#a9abae" /><polygon points="321.4,744.9 645.9,979.7 646.0,984.2 321.7,748.3" fill="#919396" /><polygon points="321.6,746.8 645.9,982.1 646.0,986.6 321.8,750.1" fill="#7b7d80" /><polygon points="321.7,748.6 646.0,984.5 646.0,989.0 321.9,751.9" fill="#6f7174" /><polygon points="321.8,750.4 646.0,986.9 646.0,991.4 322.0,753.8" fill="#707275" /><polygon points="321.9,752.2 646.0,989.3 646.0,991.7 322.0,754.0" fill="#7d7f82" /></g><polygon points="314.0,623.6 645.0,819.0 646.0,991.7 322.0,754.0" fill="url(#ovFL)" /><path d="M458 709 Q463.0 724.2 459.3 733.5 Q464.3 748.8 460.7 758.0 Q465.7 773.2 462.0 782.5 Q467.0 797.8 463.3 807.0 Q468.3 822.2 464.7 831.5 Q469.7 846.8 466.0 856.0" stroke="#4a4d50" stroke-width="1.3" fill="none"/><ellipse cx="453.2" cy="711.9" rx="1.7" ry="2.4" fill="#dcdee0"/><ellipse cx="454.5" cy="736.4" rx="1.7" ry="2.4" fill="#dcdee0"/><ellipse cx="455.8" cy="760.9" rx="1.7" ry="2.4" fill="#dcdee0"/><ellipse cx="457.2" cy="785.4" rx="1.7" ry="2.4" fill="#dcdee0"/><ellipse cx="458.5" cy="809.9" rx="1.7" ry="2.4" fill="#dcdee0"/><ellipse cx="459.8" cy="834.4" rx="1.7" ry="2.4" fill="#dcdee0"/><g transform="translate(352,690) rotate(31)"><text x="0" y="9" font-family="'Liberation Sans', sans-serif" font-size="8.5" fill="#3d3f42" textLength="34" lengthAdjust="spacingAndGlyphs">Anleolife</text><path d="M14 -1 q5 -6 11 -4 q-4 5 -11 4z" fill="#c0344a"/></g><g filter="url(#b1)"><polygon points="671.0,816.2 1000.0,608.0 1140.0,507.8 1139.8,510.3 1000.0,610.6 671.0,820.8" fill="#a4a6a9" /><polygon points="671.0,818.7 1000.0,609.4 1139.9,509.1 1139.7,511.6 1000.0,612.0 671.0,823.3" fill="#bcbec1" /><polygon points="671.0,821.2 1000.0,610.8 1139.8,510.5 1139.6,512.9 1000.0,613.4 671.0,825.8" fill="#c9cbce" /><polygon points="671.0,823.7 1000.0,612.2 1139.7,511.8 1139.5,514.3 1000.0,614.8 671.0,828.3" fill="#c7c9cc" /><polygon points="671.0,826.2 1000.0,613.6 1139.6,513.1 1139.4,515.6 1000.0,616.2 671.0,830.8" fill="#b7b9bc" /><polygon points="671.0,828.6 1000.0,615.0 1139.5,514.5 1139.3,516.9 1000.0,617.6 671.0,833.3" fill="#9d9fa2" /><polygon points="671.0,831.1 1000.0,616.4 1139.4,515.8 1139.2,518.3 1000.0,619.0 671.0,835.8" fill="#808285" /><polygon points="671.0,833.6 1000.0,617.8 1139.3,517.1 1139.1,519.6 1000.0,620.4 671.0,838.2" fill="#686a6d" /><polygon points="671.0,836.1 1000.0,619.2 1139.2,518.4 1139.0,520.9 1000.0,621.8 671.0,840.7" fill="#5b5d60" /><polygon points="671.0,838.6 1000.0,620.6 1139.1,519.8 1138.9,522.3 1000.0,623.2 671.0,843.2" fill="#5d5f62" /><polygon points="671.0,841.1 1000.0,622.0 1139.0,521.1 1138.8,523.6 1000.0,624.6 671.0,845.7" fill="#6d6f72" /><polygon points="671.0,843.6 1000.0,623.4 1138.9,522.4 1138.7,524.9 1000.0,626.0 671.0,848.2" fill="#87898c" /><polygon points="671.0,846.1 1000.0,624.8 1138.8,523.8 1138.7,526.2 1000.0,627.4 671.0,850.7" fill="#a4a6a9" /><polygon points="671.0,848.5 1000.0,626.2 1138.7,525.1 1138.6,527.6 1000.0,628.9 671.0,853.2" fill="#bcbec1" /><polygon points="671.0,851.0 1000.0,627.6 1138.6,526.4 1138.5,528.9 1000.0,630.3 671.0,855.7" fill="#c9cbce" /><polygon points="671.0,853.5 1000.0,629.0 1138.5,527.8 1138.4,530.2 1000.0,631.7 671.0,858.1" fill="#c7c9cc" /><polygon points="671.0,856.0 1000.0,630.4 1138.4,529.1 1138.3,531.6 1000.0,633.1 671.0,860.6" fill="#b7b9bc" /><polygon points="671.0,858.5 1000.0,631.8 1138.3,530.4 1138.2,532.9 1000.0,634.5 671.0,863.1" fill="#9d9fa2" /><polygon points="671.0,861.0 1000.0,633.2 1138.2,531.8 1138.1,534.2 1000.0,635.9 671.0,865.6" fill="#808285" /><polygon points="671.0,863.5 1000.0,634.7 1138.2,533.1 1138.0,535.6 1000.0,637.3 671.0,868.1" fill="#686a6d" /><polygon points="671.0,866.0 1000.0,636.1 1138.1,534.4 1137.9,536.9 1000.0,638.7 671.0,870.6" fill="#5b5d60" /><polygon points="671.0,868.4 1000.0,637.5 1138.0,535.7 1137.8,538.2 1000.0,640.1 671.0,873.1" fill="#5d5f62" /><polygon points="671.0,870.9 1000.0,638.9 1137.9,537.1 1137.7,539.6 1000.0,641.5 671.0,875.6" fill="#6d6f72" /><polygon points="671.0,873.4 1000.0,640.3 1137.8,538.4 1137.6,540.9 1000.0,642.9 671.0,878.0" fill="#87898c" /><polygon points="671.0,875.9 1000.0,641.7 1137.7,539.7 1137.5,542.2 1000.0,644.3 671.0,880.5" fill="#a4a6a9" /><polygon points="671.0,878.4 1000.0,643.1 1137.6,541.1 1137.4,543.5 1000.0,645.7 671.0,883.0" fill="#bcbec1" /><polygon points="671.0,880.9 1000.0,644.5 1137.5,542.4 1137.3,544.9 1000.0,647.1 671.0,885.5" fill="#c9cbce" /><polygon points="671.0,883.4 1000.0,645.9 1137.4,543.7 1137.2,546.2 1000.0,648.5 671.0,888.0" fill="#c7c9cc" /><polygon points="671.0,885.9 1000.0,647.3 1137.3,545.1 1137.1,547.5 1000.0,649.9 671.0,890.5" fill="#b7b9bc" /><polygon points="671.0,888.3 1000.0,648.7 1137.2,546.4 1137.0,548.9 1000.0,651.3 671.0,893.0" fill="#9d9fa2" /><polygon points="671.0,890.8 1000.0,650.1 1137.1,547.7 1136.9,550.2 1000.0,652.7 671.0,895.5" fill="#808285" /><polygon points="671.0,893.3 1000.0,651.5 1137.0,549.0 1136.8,551.5 1000.0,654.1 671.0,897.9" fill="#686a6d" /><polygon points="671.0,895.8 1000.0,652.9 1136.9,550.4 1136.7,552.9 1000.0,655.5 671.0,900.4" fill="#5b5d60" /><polygon points="671.0,898.3 1000.0,654.3 1136.8,551.7 1136.6,554.2 1000.0,656.9 671.0,902.9" fill="#5d5f62" /><polygon points="671.0,900.8 1000.0,655.7 1136.7,553.0 1136.5,555.5 1000.0,658.3 671.0,905.4" fill="#6d6f72" /><polygon points="671.0,903.3 1000.0,657.1 1136.6,554.4 1136.4,556.8 1000.0,659.7 671.0,907.9" fill="#87898c" /><polygon points="671.0,905.8 1000.0,658.5 1136.5,555.7 1136.3,558.2 1000.0,661.1 671.0,910.4" fill="#a4a6a9" /><polygon points="671.0,908.2 1000.0,659.9 1136.4,557.0 1136.2,559.5 1000.0,662.5 671.0,912.9" fill="#bcbec1" /><polygon points="671.0,910.7 1000.0,661.3 1136.3,558.4 1136.1,560.8 1000.0,663.9 671.0,915.4" fill="#c9cbce" /><polygon points="671.0,913.2 1000.0,662.7 1136.2,559.7 1136.0,562.2 1000.0,665.3 671.0,917.8" fill="#c7c9cc" /><polygon points="671.0,915.7 1000.0,664.1 1136.1,561.0 1135.9,563.5 1000.0,666.7 671.0,920.3" fill="#b7b9bc" /><polygon points="671.0,918.2 1000.0,665.5 1136.0,562.4 1135.8,564.8 1000.0,668.1 671.0,922.8" fill="#9d9fa2" /><polygon points="671.0,920.7 1000.0,666.9 1135.9,563.7 1135.7,566.2 1000.0,669.5 671.0,925.3" fill="#808285" /><polygon points="671.0,923.2 1000.0,668.3 1135.8,565.0 1135.6,567.5 1000.0,670.9 671.0,927.8" fill="#686a6d" /><polygon points="671.0,925.6 1000.0,669.7 1135.7,566.3 1135.5,568.8 1000.0,672.3 671.0,930.3" fill="#5b5d60" /><polygon points="671.0,928.1 1000.0,671.1 1135.6,567.7 1135.4,570.2 1000.0,673.7 671.0,932.8" fill="#5d5f62" /><polygon points="671.0,930.6 1000.0,672.5 1135.5,569.0 1135.3,571.5 1000.0,675.1 671.0,935.3" fill="#6d6f72" /><polygon points="671.0,933.1 1000.0,673.9 1135.4,570.3 1135.2,572.8 1000.0,676.5 671.0,937.7" fill="#87898c" /><polygon points="671.0,935.6 1000.0,675.3 1135.3,571.7 1135.2,574.1 1000.0,677.9 671.0,940.2" fill="#a4a6a9" /><polygon points="671.0,938.1 1000.0,676.7 1135.2,573.0 1135.1,575.5 1000.0,679.4 671.0,942.7" fill="#bcbec1" /><polygon points="671.0,940.6 1000.0,678.1 1135.1,574.3 1135.0,576.8 1000.0,680.8 671.0,945.2" fill="#c9cbce" /><polygon points="671.0,943.1 1000.0,679.5 1135.0,575.7 1134.9,578.1 1000.0,682.2 671.0,947.7" fill="#c7c9cc" /><polygon points="671.0,945.5 1000.0,680.9 1134.9,577.0 1134.8,579.5 1000.0,683.6 671.0,950.2" fill="#b7b9bc" /><polygon points="671.0,948.0 1000.0,682.3 1134.8,578.3 1134.7,580.8 1000.0,685.0 671.0,952.7" fill="#9d9fa2" /><polygon points="671.0,950.5 1000.0,683.8 1134.8,579.6 1134.6,582.1 1000.0,686.4 671.0,955.2" fill="#808285" /><polygon points="671.0,953.0 1000.0,685.2 1134.7,581.0 1134.5,583.5 1000.0,687.8 671.0,957.6" fill="#686a6d" /><polygon points="671.0,955.5 1000.0,686.6 1134.6,582.3 1134.4,584.8 1000.0,689.2 671.0,960.1" fill="#5b5d60" /><polygon points="671.0,958.0 1000.0,688.0 1134.5,583.6 1134.3,586.1 1000.0,690.6 671.0,962.6" fill="#5d5f62" /><polygon points="671.0,960.5 1000.0,689.4 1134.4,585.0 1134.2,587.5 1000.0,692.0 671.0,965.1" fill="#6d6f72" /><polygon points="671.0,963.0 1000.0,690.8 1134.3,586.3 1134.1,588.8 1000.0,693.4 671.0,967.6" fill="#87898c" /><polygon points="671.0,965.5 1000.0,692.2 1134.2,587.6 1134.0,590.1 1000.0,694.8 671.0,970.1" fill="#a4a6a9" /><polygon points="671.0,967.9 1000.0,693.6 1134.1,589.0 1133.9,591.4 1000.0,696.2 671.0,972.6" fill="#bcbec1" /><polygon points="671.0,970.4 1000.0,695.0 1134.0,590.3 1133.8,592.8 1000.0,697.6 671.0,975.1" fill="#c9cbce" /><polygon points="671.0,972.9 1000.0,696.4 1133.9,591.6 1133.7,594.1 1000.0,699.0 671.0,977.5" fill="#c7c9cc" /><polygon points="671.0,975.4 1000.0,697.8 1133.8,593.0 1133.6,595.4 1000.0,700.4 671.0,980.0" fill="#b7b9bc" /><polygon points="671.0,977.9 1000.0,699.2 1133.7,594.3 1133.5,596.8 1000.0,701.8 671.0,982.5" fill="#9d9fa2" /><polygon points="671.0,980.4 1000.0,700.6 1133.6,595.6 1133.4,598.1 1000.0,703.2 671.0,985.0" fill="#808285" /><polygon points="671.0,982.9 1000.0,702.0 1133.5,596.9 1133.3,599.4 1000.0,704.6 671.0,987.5" fill="#686a6d" /><polygon points="671.0,985.3 1000.0,703.4 1133.4,598.3 1133.2,600.8 1000.0,706.0 671.0,990.0" fill="#5b5d60" /><polygon points="671.0,987.8 1000.0,704.8 1133.3,599.6 1133.1,602.1 1000.0,707.4 671.0,992.5" fill="#5d5f62" /><polygon points="671.0,990.3 1000.0,706.2 1133.2,600.9 1133.0,603.4 1000.0,708.8 671.0,995.0" fill="#6d6f72" /><polygon points="671.0,992.8 1000.0,707.6 1133.1,602.3 1133.0,603.6 1000.0,709.0 671.0,995.3" fill="#87898c" /></g><polygon points="671.0,816.2 1000.0,608.0 1140.0,507.8 1133.0,603.6 1000.0,709.0 671.0,995.3" fill="url(#ovFR)" /><path d="M906 672 L893 800" stroke="#5a5d60" stroke-width="1" fill="none" opacity="0.7"/><ellipse cx="905.8" cy="674.1" rx="1.5" ry="2.2" fill="#d5d7da" transform="rotate(20 905.8 674.1)"/><ellipse cx="903.6" cy="695.5" rx="1.5" ry="2.2" fill="#d5d7da" transform="rotate(20 903.6 695.5)"/><ellipse cx="901.5" cy="716.8" rx="1.5" ry="2.2" fill="#d5d7da" transform="rotate(20 901.5 716.8)"/><ellipse cx="899.3" cy="738.1" rx="1.5" ry="2.2" fill="#d5d7da" transform="rotate(20 899.3 738.1)"/><ellipse cx="897.1" cy="759.5" rx="1.5" ry="2.2" fill="#d5d7da" transform="rotate(20 897.1 759.5)"/><ellipse cx="895.0" cy="780.8" rx="1.5" ry="2.2" fill="#d5d7da" transform="rotate(20 895.0 780.8)"/><path d="M1044 580 L1034 682" stroke="#5a5d60" stroke-width="1" fill="none" opacity="0.7"/><ellipse cx="1043.8" cy="581.7" rx="1.5" ry="2.2" fill="#d5d7da" transform="rotate(20 1043.8 581.7)"/><ellipse cx="1042.2" cy="598.7" rx="1.5" ry="2.2" fill="#d5d7da" transform="rotate(20 1042.2 598.7)"/><ellipse cx="1040.5" cy="615.7" rx="1.5" ry="2.2" fill="#d5d7da" transform="rotate(20 1040.5 615.7)"/><ellipse cx="1038.8" cy="632.7" rx="1.5" ry="2.2" fill="#d5d7da" transform="rotate(20 1038.8 632.7)"/><ellipse cx="1037.2" cy="649.7" rx="1.5" ry="2.2" fill="#d5d7da" transform="rotate(20 1037.2 649.7)"/><ellipse cx="1035.5" cy="666.7" rx="1.5" ry="2.2" fill="#d5d7da" transform="rotate(20 1035.5 666.7)"/><polygon points="308.5,624.0 313.0,618.5 319.5,623.0 327.0,757.0 323.5,759.5 320.0,757.0" fill="#5a5d60" /><path d="M314 622 L324 758" stroke="#2f3235" stroke-width="1.6" fill="none"/><polygon points="1135.5,501.0 1148.5,505.5 1134.0,609.0 1128.5,604.5 1139.5,512.0" fill="#4c4f52" /><polygon points="1137.0,502.0 1148.5,505.5 1147.0,512.0 1136.0,509.0" fill="#3a3d40" /><polygon points="639.6,815.5 644.0,812.0 673.0,811.0 677.6,813.0 676.0,981.0 671.6,991.0 644.0,991.0 639.6,987.0" fill="#85888b" /><polygon points="644.0,815.0 673.0,813.5 671.6,990.5 644.0,990.5" fill="#4b4d50" /><polygon points="640.0,815.5 644.0,812.0 673.0,811.0 677.5,813.0 673.0,816.0 644.0,817.5" fill="#6e7174" /><ellipse cx="640.6" cy="833.8" rx="1.6" ry="2.6" fill="#e8eaec"/><ellipse cx="676" cy="829.2" rx="1.7" ry="2.6" fill="#e8eaec" transform="rotate(25 676 829.2)"/><ellipse cx="640.6" cy="862.4" rx="1.6" ry="2.6" fill="#e8eaec"/><ellipse cx="676" cy="858.5" rx="1.7" ry="2.6" fill="#e8eaec" transform="rotate(25 676 858.5)"/><ellipse cx="640.6" cy="891.1" rx="1.6" ry="2.6" fill="#e8eaec"/><ellipse cx="676" cy="887.9" rx="1.7" ry="2.6" fill="#e8eaec" transform="rotate(25 676 887.9)"/><ellipse cx="640.6" cy="919.8" rx="1.6" ry="2.6" fill="#e8eaec"/><ellipse cx="676" cy="917.2" rx="1.7" ry="2.6" fill="#e8eaec" transform="rotate(25 676 917.2)"/><ellipse cx="640.6" cy="948.4" rx="1.6" ry="2.6" fill="#e8eaec"/><ellipse cx="676" cy="946.5" rx="1.7" ry="2.6" fill="#e8eaec" transform="rotate(25 676 946.5)"/><ellipse cx="640.6" cy="977.1" rx="1.6" ry="2.6" fill="#e8eaec"/><ellipse cx="676" cy="975.9" rx="1.7" ry="2.6" fill="#e8eaec" transform="rotate(25 676 975.9)"/>
<path d="M528.8 306 V481.2 H313.9 V627.5" fill="none" stroke="#11301d" stroke-width="2.4" stroke-dasharray="11.3 5.5"/>
<path d="M881 297.3 H725.5 V478" fill="none" stroke="#11301d" stroke-width="2.4" stroke-dasharray="11.3 5.5"/>
<path d="M1139 600.8 L1235.5 605.5 V1100" fill="none" stroke="#11301d" stroke-width="2.4" stroke-dasharray="11.3 5.5"/>
<path d="M664 834.5 L277.4 824.2 V1092" fill="none" stroke="#11301d" stroke-width="2.4" stroke-dasharray="11.3 5.5"/>
<g clip-path="url(#cp1)"><rect x="3.9" y="2.8" width="560.4" height="302.8" fill="#ffffff"/><polygon points="0.0,0.0 55.0,0.0 173.0,105.5 140.0,110.0 150.0,310.0 0.0,310.0" fill="url(#p1lw)" /><g filter="url(#p1b6)"><path d="M40 0 L165 110" stroke="#979999" stroke-width="26" fill="none"/><path d="M-5 35 L135 160" stroke="#838586" stroke-width="9" fill="none"/><path d="M-5 75 L135 200" stroke="#939596" stroke-width="22" fill="none"/><path d="M-5 135 L135 252" stroke="#828485" stroke-width="9" fill="none"/><path d="M-5 180 L140 300" stroke="#919394" stroke-width="22" fill="none"/><path d="M-5 238 L95 315" stroke="#828485" stroke-width="9" fill="none"/><path d="M-5 285 L60 330" stroke="#909293" stroke-width="18" fill="none"/></g><polygon points="52.0,-5.0 600.0,-5.0 600.0,60.0 175.0,104.5" fill="#ffffff" /><path d="M54 1 L173 105" stroke="#a9abac" stroke-width="3" fill="none" filter="url(#p1b1)"/><polygon points="270.0,117.0 521.0,1.5 600.0,-30.0 600.0,320.0 290.0,320.0" fill="url(#p1rw)" /><g filter="url(#p1b6)"><path d="M300 122 L580 -8" stroke="#5e5e5c" stroke-width="30" fill="none"/><path d="M325 136 L580 60" stroke="#383836" stroke-width="14" fill="none"/><path d="M330 170 L580 88" stroke="#4d4d4b" stroke-width="22" fill="none"/><path d="M325 275 L580 158" stroke="#363634" stroke-width="16" fill="none"/><path d="M360 300 L580 200" stroke="#484846" stroke-width="22" fill="none"/><path d="M470 320 L580 275" stroke="#343432" stroke-width="14" fill="none"/></g><polygon points="265.0,117.5 521.0,0.0 521.0,-20.0 200.0,-20.0 175.0,104.5" fill="#ffffff" /><path d="M327.5 144 L566 75.5" stroke="#2f2f2d" stroke-width="1.6" fill="none" filter="url(#p1b1)" opacity="0.8"/><path d="M327 296 L566 179" stroke="#2f2f2d" stroke-width="1.6" fill="none" filter="url(#p1b1)" opacity="0.8"/><polygon points="298.2,141.2 324.1,121.8 324.1,144.0 328.5,148.0 327.0,200.0 322.0,310.0 294.0,310.0" fill="#3f3f3d" /><polygon points="125.0,103.0 173.0,105.5 322.0,121.5 324.1,121.8 298.2,141.2 295.5,310.0 141.8,310.0" fill="url(#p1cap)" /><polygon points="125.0,103.0 173.0,105.5 141.5,130.0 150.5,310.0 141.8,310.0" fill="#8b8d8e" /><path d="M141.5 130 L150.5 310" stroke="#969899" stroke-width="1.2" fill="none" filter="url(#p1b1)"/><path d="M172 110 L318 126" stroke="#979898" stroke-width="5" fill="none" filter="url(#p1b3)" opacity="0.7"/><g transform="rotate(-14 132 171)"><ellipse cx="133.5" cy="173" rx="9.5" ry="19.5" fill="#a4a6a7"/><ellipse cx="132" cy="171" rx="8.5" ry="18.5" fill="#424446"/><ellipse cx="131" cy="169" rx="5.5" ry="13" fill="#585a5c" filter="url(#p1b1)"/></g><g transform="rotate(-14 136 287)"><ellipse cx="137.5" cy="289" rx="9.5" ry="19.5" fill="#a4a6a7"/><ellipse cx="136" cy="287" rx="8.5" ry="18.5" fill="#424446"/><ellipse cx="135" cy="285" rx="5.5" ry="13" fill="#585a5c" filter="url(#p1b1)"/></g><g filter="url(#p1b1)"><ellipse cx="307" cy="181" rx="8" ry="14" fill="#1c1c1c" transform="rotate(25 307 181)"/><circle cx="311" cy="171" r="3.2" fill="#2d2d2f"/><circle cx="302" cy="178" r="2.5" fill="#3a3a3c"/><circle cx="307" cy="188" r="2.5" fill="#444446"/></g><g filter="url(#p1b1)"><ellipse cx="305" cy="296" rx="8" ry="14" fill="#1c1c1c" transform="rotate(25 305 296)"/><circle cx="309" cy="286" r="3.2" fill="#2d2d2f"/><circle cx="300" cy="293" r="2.5" fill="#3a3a3c"/><circle cx="305" cy="303" r="2.5" fill="#444446"/></g></g><rect x="3.9" y="2.8" width="560.4" height="302.8" rx="38" ry="38" fill="none" stroke="#11351b" stroke-width="2.5"/>
<g clip-path="url(#cp2)"><rect x="879" y="3.7" width="564" height="306.6" fill="url(#p2bg)"/><g filter="url(#p2b8)"><rect x="860" y="-20" width="1" height="1" fill="#45484b"/><rect x="1460" y="330" width="1" height="1" fill="#45484b"/><path d="M860 128.6 L1125 112 L1460 95.5" stroke="#33363a" stroke-width="24" fill="none"/><path d="M860 191.3 L1125 158 L1460 129.2" stroke="#34373b" stroke-width="18" fill="none"/><path d="M860 237.7 L1125 193 L1460 159.0" stroke="#373a3e" stroke-width="14" fill="none"/><path d="M860 280.0 L1125 228 L1460 183.7" stroke="#383b3f" stroke-width="12" fill="none"/><path d="M860 55.2 L1125 50 L1460 43.8" stroke="#4b4e52" stroke-width="20" fill="none"/></g><g filter="url(#p2b4)"><rect x="860" y="-20" width="1" height="1" fill="#45484b"/><rect x="1460" y="330" width="1" height="1" fill="#45484b"/><path d="M860 31.2 L1125 27 L1460 31.1" stroke="#7d8084" stroke-width="7" fill="none"/><path d="M860 89.5 L1125 77 L1460 56.4" stroke="#808387" stroke-width="15" fill="none"/><path d="M860 163.0 L1125 138 L1460 107.1" stroke="#828589" stroke-width="16" fill="none"/><path d="M860 214.6 L1125 173 L1460 147.2" stroke="#6f7276" stroke-width="11" fill="none"/><path d="M860 260.9 L1125 211 L1460 170.8" stroke="#686b6f" stroke-width="11" fill="none"/><path d="M860 298.1 L1125 244 L1460 201.8" stroke="#65686c" stroke-width="10" fill="none"/><path d="M860 337.3 L1125 278 L1460 234.7" stroke="#5a5d61" stroke-width="9" fill="none"/><path d="M860 372.3 L1125 312 L1460 266.7" stroke="#56595d" stroke-width="9" fill="none"/></g><path d="M1200 250 L1450 215" stroke="#4d5054" stroke-width="40" fill="none" filter="url(#p2b8)" opacity="0.6"/><path d="M1101 0 C1105 30 1119 50 1119 72 C1119 95 1107 105 1107 122 C1107 145 1122 150 1122 168 C1122 190 1110 200 1110 218 C1110 240 1126 248 1126 264 C1126 285 1113 295 1112 312" stroke="#2b2e31" stroke-width="6" fill="none" filter="url(#p2b4)" transform="translate(4,0)"/><path d="M1101 0 C1105 30 1119 50 1119 72 C1119 95 1107 105 1107 122 C1107 145 1122 150 1122 168 C1122 190 1110 200 1110 218 C1110 240 1126 248 1126 264 C1126 285 1113 295 1112 312" stroke="#7d8084" stroke-width="1.3" fill="none" filter="url(#p2b1)"/><polygon points="1150.0,150.0 1445.0,200.0 1445.0,320.0 1150.0,320.0" fill="#45484c" opacity="0.45" filter="url(#p2b4)"/><path d="M1122 152 L1300 182 L1445 210" stroke="#2a2c2f" stroke-width="10" fill="none" filter="url(#p2b4)"/><path d="M1118 100 L1160 100" stroke="#2c2e31" stroke-width="12" fill="none" filter="url(#p2b4)"/><polygon points="1119.5,106.0 1160.0,106.0 1445.0,144.0 1445.0,202.5 1160.0,152.0 1119.5,148.0" fill="url(#p2bar)" /><path d="M1160 106.5 L1445 144.5" stroke="#6b6d6e" stroke-width="1.5" fill="none" filter="url(#p2b1)"/><polygon points="1119.5,106.0 1128.0,106.0 1128.0,148.5 1119.5,148.0" fill="#494b4d" /><g filter="url(#p2b1)"><ellipse cx="1146" cy="50" rx="10" ry="4" fill="#202224" opacity="0.8"/><use href="#wnut1" transform="translate(1143,22.6)"/><use href="#wnut" transform="translate(1150.2,130.4) scale(0.98)"/><use href="#wnut" transform="translate(1137,220) scale(0.86)"/><use href="#wnut" transform="translate(1140,296.5) scale(0.8)"/></g></g><rect x="881" y="5.7" width="560" height="302.6" rx="37" ry="37" fill="none" stroke="#163a22" stroke-width="3.2"/>
<g clip-path="url(#cp3)"><rect x="4" y="1091.5" width="561.6" height="303.7" fill="#ffffff"/><polygon points="204.6,1206.8 350.0,1226.6 440.0,1240.0 440.0,1400.0 204.0,1400.0" fill="url(#p3wall)" /><polygon points="195.5,1200.7 317.3,1161.9 360.0,1240.0 350.0,1228.0 204.6,1206.8" fill="#3a3a3a" /><polygon points="428.0,1088.0 520.0,1088.0 492.0,1142.0 470.0,1160.0" fill="#2c2c2c" /><polygon points="181.8,1092.6 190.9,1092.6 171.1,1107.8" fill="#454545" /><polygon points="101.6,1146.3 164.6,1219.0 168.0,1400.0 109.5,1400.0" fill="#6d6d6d" /><polygon points="164.6,1216.0 206.5,1214.0 209.0,1400.0 168.0,1400.0" fill="#4c4c4c" /><polygon points="101.6,1146.3 120.4,1129.0 205.4,1206.0 206.5,1216.0 164.6,1220.0" fill="#474747" /><ellipse cx="102.5" cy="1195" rx="3" ry="9" fill="#3a3a3a"/><ellipse cx="105.5" cy="1321" rx="3" ry="9" fill="#3a3a3a"/><g filter="url(#p3b1)"><ellipse cx="187.5" cy="1276.5" rx="17.5" ry="16" fill="#2c2c2c"/><ellipse cx="187" cy="1273" rx="14.5" ry="11" fill="#505050"/><path d="M187 1266 V1288 M176 1279 H199" stroke="#1e1e1e" stroke-width="3.2" fill="none"/><rect x="185" y="1284" width="6" height="5" fill="#9a9a9a"/></g><ellipse cx="188" cy="1394" rx="14" ry="6" fill="#8e8e8e" filter="url(#p3b1)"/><polygon points="144.5,1177.1 190.1,1092.6 304.3,1092.6 162.7,1169.8" fill="url(#p3jaw)" /><polygon points="144.5,1177.1 162.7,1169.8 180.2,1150.5 174.2,1135.2 152.8,1148.9" fill="#d2d2d2" /><polygon points="174.2,1179.4 276.2,1117.7 288.3,1107.8 318.8,1161.9 195.5,1201.0" fill="url(#p3jaw)" /><polygon points="174.2,1179.4 197.0,1164.2 206.1,1171.8 204.6,1184.0 195.5,1201.0" fill="#cdcdcd" /><polygon points="195.5,1201.0 318.8,1161.9 316.5,1158.1 201.6,1196.9" fill="#c2c2c2" /><polygon points="162.7,1169.8 304.3,1092.6 327.9,1092.6 276.2,1117.7 174.2,1179.7" fill="#2f2f2f" /><path d="M500.9 1223.6 C 520 1205 545 1198 570 1208 L570 1400 L500 1400 L490 1300 L500 1260 Z" fill="url(#p3glv)"/><path d="M528 1290 C 520 1330 526 1360 524 1400" stroke="#b9be9c" stroke-width="7" fill="none" filter="url(#p3b2)"/><polygon points="446.3,1319.8 517.7,1291.5 579.2,1399.5 498.1,1399.5" fill="#cdcdcd" /><polygon points="502.8,1304.8 517.7,1291.5 579.2,1399.5 550.9,1399.5" fill="#dcdcdc" /><path d="M462.9 1332.6 L469.4 1328.6" stroke="#333" stroke-width="1.1"/><path d="M464.8 1336.0 L471.4 1332.0" stroke="#333" stroke-width="1.1"/><path d="M466.8 1339.4 L476.8 1333.4" stroke="#333" stroke-width="1.1"/><path d="M468.8 1342.7 L475.3 1338.8" stroke="#333" stroke-width="1.1"/><path d="M470.7 1346.1 L477.3 1342.2" stroke="#333" stroke-width="1.1"/><path d="M472.7 1349.5 L479.2 1345.6" stroke="#333" stroke-width="1.1"/><path d="M474.6 1352.9 L481.2 1349.0" stroke="#333" stroke-width="1.1"/><path d="M476.6 1356.3 L486.6 1350.3" stroke="#333" stroke-width="1.1"/><path d="M478.5 1359.7 L485.1 1355.8" stroke="#333" stroke-width="1.1"/><path d="M480.5 1363.1 L487.0 1359.2" stroke="#333" stroke-width="1.1"/><path d="M482.5 1366.5 L489.0 1362.6" stroke="#333" stroke-width="1.1"/><path d="M484.4 1369.9 L491.0 1366.0" stroke="#333" stroke-width="1.1"/><path d="M486.4 1373.3 L496.3 1367.3" stroke="#333" stroke-width="1.1"/><path d="M488.3 1376.7 L494.9 1372.8" stroke="#333" stroke-width="1.1"/><path d="M490.3 1380.1 L496.8 1376.2" stroke="#333" stroke-width="1.1"/><path d="M492.2 1383.5 L498.8 1379.6" stroke="#333" stroke-width="1.1"/><path d="M494.2 1386.9 L500.7 1383.0" stroke="#333" stroke-width="1.1"/><path d="M496.1 1390.3 L506.1 1384.3" stroke="#333" stroke-width="1.1"/><path d="M498.1 1393.7 L504.7 1389.8" stroke="#333" stroke-width="1.1"/><g transform="translate(496.1,1349.7) rotate(59)" font-family="'Liberation Sans', sans-serif" font-size="11.5" fill="#222" opacity="0.99"><text x="0" y="0">80</text><text x="-24" y="-10">30</text></g><polygon points="408.1,1349.7 452.9,1333.1 462.1,1329.4 498.8,1394.5 498.8,1399.5 423.0,1399.5" fill="#929294" /><polygon points="446.3,1366.3 455.9,1364.6 467.9,1399.5 449.9,1399.5" fill="#565658" /><path d="M457.9 1353.0 Q479.5 1366.3 472.9 1396.2" stroke="#b9b9bb" stroke-width="3" stroke-dasharray="1.5 1.5" fill="none"/><polygon points="452.1,1333.9 456.2,1333.1 462.9,1349.7 459.6,1351.3" fill="#e8e8e8" /><polygon points="284.4,1088.8 435.7,1088.8 469.3,1177.2 514.6,1286.5 444.6,1327.4 435.7,1349.1 412.5,1342.9 386.0,1318.6 377.2,1289.9 372.8,1261.1 362.2,1232.4" fill="#c6c6c8" /><clipPath id="p3bodyclip"><polygon points="284.4,1088.8 435.7,1088.8 469.3,1177.2 514.6,1286.5 444.6,1327.4 435.7,1349.1 412.5,1342.9 386.0,1318.6 377.2,1289.9 372.8,1261.1 362.2,1232.4"/></clipPath><g clip-path="url(#p3bodyclip)"><g transform="translate(411.0,1269.5) rotate(59.0)"><rect x="-230" y="-135" width="330" height="42" fill="#ededee"/><rect x="-230" y="-96" width="330" height="2.5" fill="#b2b2b4"/><rect x="-230" y="-93.5" width="330" height="9.5" fill="#f3f3f4"/><rect x="-230" y="-84" width="330" height="6" fill="#cdcdcf"/><rect x="-230" y="0" width="240" height="7" fill="#a9a9ab"/><rect x="-230" y="7" width="240" height="9" fill="#dededf"/><rect x="-230" y="16" width="240" height="8" fill="#b0b0b2"/></g></g><g transform="translate(411.0,1269.5) rotate(59.0)"><rect x="-230" y="-78" width="231" height="78" rx="5" fill="#101010"/><rect x="-230" y="-70" width="222.5" height="59" rx="6" fill="url(#p3lcd)"/><g transform="translate(0,-18.3) skewX(-4) scale(0.66,1)" opacity="0.99"><text x="-174 -133 -99" y="0" font-family="'Liberation Sans', sans-serif" font-size="61.5" fill="#1b1b1b" stroke="#1b1b1b" stroke-width="1.2">1.6</text></g><text x="-36" y="-46.5" font-family="'Liberation Sans', sans-serif" font-size="17" font-weight="700" fill="#1a1a1a" textLength="29" lengthAdjust="spacingAndGlyphs" opacity="0.99">mm</text><g font-family="'Liberation Sans', sans-serif" font-weight="700" fill="#f2f2f2" opacity="0.99"><text x="-180" y="-1.8" font-size="9.6" textLength="55" lengthAdjust="spacingAndGlyphs">Inch/mm</text><text x="-101" y="-2.2" font-size="8" textLength="21.5" lengthAdjust="spacingAndGlyphs">OFF</text><text x="-68.5" y="-2.2" font-size="8" textLength="15.5" lengthAdjust="spacingAndGlyphs">ON</text><text x="-35.5" y="-2.2" font-size="8" textLength="25.5" lengthAdjust="spacingAndGlyphs">ZERO</text></g><ellipse cx="-144" cy="12.5" rx="15" ry="7.2" fill="#8d8d8f"/><ellipse cx="-145" cy="11" rx="14.3" ry="6.4" fill="#f6f6f6"/><ellipse cx="-74.5" cy="12.5" rx="15" ry="7.2" fill="#8d8d8f"/><ellipse cx="-75.5" cy="11" rx="14.3" ry="6.4" fill="#f6f6f6"/><ellipse cx="-5" cy="12.5" rx="15" ry="7.2" fill="#8d8d8f"/><ellipse cx="-6" cy="11" rx="14.3" ry="6.4" fill="#f6f6f6"/><rect x="6.5" y="-79" width="63" height="78.5" rx="9" fill="#6f6f71"/><rect x="8.5" y="-77" width="59" height="74.5" rx="8" fill="url(#p3plate)"/><circle cx="16.5" cy="-68" r="4.6" fill="#77777a"/><circle cx="16.0" cy="-68.5" r="3" fill="#a9a9ab"/><circle cx="16.5" cy="-68" r="1.3" fill="#6a6a6c"/><circle cx="58.5" cy="-11" r="4.6" fill="#77777a"/><circle cx="58.0" cy="-11.5" r="3" fill="#a9a9ab"/><circle cx="58.5" cy="-11" r="1.3" fill="#6a6a6c"/></g><g transform="translate(491.6,1150.2) rotate(-27) scale(1.18)"><rect x="-22" y="-3" width="14" height="7" fill="#9b9b9d"/><rect x="-10" y="-9.5" width="24" height="19" rx="3" fill="#a9a9ab"/><path d="M-8.0 -9.5 V9.5" stroke="#7e7e80" stroke-width="1"/><path d="M-5.1 -9.5 V9.5" stroke="#7e7e80" stroke-width="1"/><path d="M-2.2 -9.5 V9.5" stroke="#7e7e80" stroke-width="1"/><path d="M0.7 -9.5 V9.5" stroke="#7e7e80" stroke-width="1"/><path d="M3.6 -9.5 V9.5" stroke="#7e7e80" stroke-width="1"/><path d="M6.5 -9.5 V9.5" stroke="#7e7e80" stroke-width="1"/><path d="M9.4 -9.5 V9.5" stroke="#7e7e80" stroke-width="1"/><path d="M12.3 -9.5 V9.5" stroke="#7e7e80" stroke-width="1"/><rect x="-10" y="-9.5" width="24" height="5" rx="2" fill="#d0d0d2" opacity="0.8"/></g><path d="M343.0 1293.8 Q356.2 1277.5 374.5 1289.4 Q379.6 1309.7 385.6 1319.7 Q394.7 1338.2 414.7 1346.2 L437.3 1348.4 L425.8 1400 L337.9 1400 Z" fill="url(#p3glv)"/><path d="M352 1300 C 362 1330 372 1350 380 1400" stroke="#cdd2b3" stroke-width="5" fill="none" filter="url(#p3b2)"/></g><rect x="4" y="1091.5" width="561.6" height="303.7" rx="38" ry="38" fill="none" stroke="#0f2d18" stroke-width="2.3"/>
<g clip-path="url(#cp4)"><rect x="883.4" y="1099" width="549.1" height="298.2" fill="url(#p4bg)"/><path d="M1300 1090 L1440 1090 L1440 1400 L1414 1386 L1299.6 1327.4 L1268.7 1309.7 C1259.9 1300.9 1264.3 1285.4 1277.5 1274.4 Z" fill="url(#p4rw)"/><polygon points="878.8,1093.3 989.3,1093.3 1046.7,1146.3 1068.8,1203.7 1078.7,1278.8 1053.3,1318.6 1029.0,1328.5 907.6,1388.2 878.8,1402.5" fill="url(#p4lw)" /><g filter="url(#p4b8)"><path d="M993.7 1093.3 L1053.3 1146.3 L1075.4 1212.5 L1082.1 1278.8" stroke="#3d3d3d" stroke-width="12" fill="none"/><ellipse cx="993.7" cy="1221.4" rx="30" ry="60" fill="#555555" transform="rotate(-20 993.7 1221.4)"/><ellipse cx="1321.7" cy="1221.4" rx="50" ry="80" fill="#333333" transform="rotate(20 1321.7 1221.4)"/></g><polygon points="903.1,1109.2 949.5,1100.3 916.4,1100.3" fill="#f0f0f0" filter="url(#p4b1)"/><polygon points="1060.0,1306.6 1282.0,1306.6 1287.5,1317.2 1054.4,1317.2" fill="#4a4a4a" /><polygon points="1054.4,1317.0 1287.5,1317.0 1299.6,1327.4 1027.9,1327.8" fill="#363636" /><polygon points="906.4,1388.8 1028.6,1327.7 1299.6,1327.4 1415.6,1386.6 1432.2,1402.5 892.1,1402.5" fill="#ffffff" /><polygon points="1176.0,1326.0 1193.0,1326.0 1193.0,1400.0 1176.0,1400.0" fill="#4a4a4a" /><ellipse cx="1185" cy="1299.5" rx="12.8" ry="4.4" fill="#1f1f1f"/><g filter="url(#p4b05)" fill="none" stroke-linejoin="round"><g transform="translate(0,0)"><path d="M1089.5 1147.4 H1168 Q1185 1147.4 1185 1165 V1300.5" stroke="#5c5c5c" stroke-width="19.6"/><circle cx="1089.5" cy="1147.4" r="9.8" fill="#5c5c5c"/></g><g transform="translate(0,0)"><path d="M1089.5 1147.4 H1168 Q1185 1147.4 1185 1165 V1300.5" stroke="#8a8a8a" stroke-width="16"/><circle cx="1089.5" cy="1147.4" r="8.0" fill="#8a8a8a"/></g><g transform="translate(-1.2,-1.2)"><path d="M1089.5 1147.4 H1168 Q1185 1147.4 1185 1165 V1300.5" stroke="#b2b2b2" stroke-width="11"/><circle cx="1089.5" cy="1147.4" r="5.5" fill="#b2b2b2"/></g><g transform="translate(-2.8,-2.8)"><path d="M1089.5 1147.4 H1168 Q1185 1147.4 1185 1165 V1300.5" stroke="#e2e2e2" stroke-width="4.6"/><circle cx="1089.5" cy="1147.4" r="2.3" fill="#e2e2e2"/></g></g><g filter="url(#p4b1)"><use href="#bignut" transform="translate(940,1100)"/><use href="#bignut" transform="translate(1397,1097) scale(-1,1)"/></g></g><rect x="885.4" y="1101" width="545.1" height="294.2" rx="37" ry="37" fill="none" stroke="#12321c" stroke-width="2.7"/>
<rect x="374.5" y="1002.5" width="778.5" height="67" rx="13" ry="13" fill="#fff" stroke="#0e4018" stroke-width="2.6"/>
<g font-family="'Liberation Sans', sans-serif" font-weight="700" fill="#0e4018"><text y="1052.9" font-size="48.3" ><tspan x="382.3" textLength="249.7" lengthAdjust="spacingAndGlyphs">UPGRADED</tspan> <tspan x="649.0" textLength="222.3" lengthAdjust="spacingAndGlyphs">STABILITY</tspan> <tspan x="887.3" textLength="259.2" lengthAdjust="spacingAndGlyphs">STURCTURE</tspan></text><text y="366.9" font-size="36.3" stroke="#0e4018" stroke-width="0.7" stroke-linejoin="round"><tspan x="33.7" textLength="179.9" lengthAdjust="spacingAndGlyphs">Reinforced</tspan> <tspan x="221.6" textLength="152.2" lengthAdjust="spacingAndGlyphs">Rounded</tspan> <tspan x="382.5" textLength="113.5" lengthAdjust="spacingAndGlyphs">Corner</tspan></text><text y="380" font-size="36.6" stroke="#0e4018" stroke-width="0.7" stroke-linejoin="round"><tspan x="995.2" textLength="116.9" lengthAdjust="spacingAndGlyphs">Stable</tspan> <tspan x="1121.8" textLength="139.0" lengthAdjust="spacingAndGlyphs">Bracing</tspan> <tspan x="1272.6" textLength="88.7" lengthAdjust="spacingAndGlyphs">Rods</tspan></text><text y="1436.2" font-size="36.6" stroke="#0e4018" stroke-width="0.7" stroke-linejoin="round"><tspan x="117.2" textLength="107.4" lengthAdjust="spacingAndGlyphs">Super</tspan> <tspan x="233.7" textLength="203.9" lengthAdjust="spacingAndGlyphs">Thickening</tspan></text><text y="1440.8" font-size="35.6" stroke="#0e4018" stroke-width="0.7" stroke-linejoin="round"><tspan x="873.4" textLength="83.2" lengthAdjust="spacingAndGlyphs">Extra</tspan> <tspan x="966.5" textLength="130.9" lengthAdjust="spacingAndGlyphs">Secured</tspan> <tspan x="1106.2" textLength="70.2" lengthAdjust="spacingAndGlyphs">with</tspan> <tspan x="1189.2" textLength="130.9" lengthAdjust="spacingAndGlyphs">Ground</tspan> <tspan x="1330.9" textLength="103.4" lengthAdjust="spacingAndGlyphs">Stakes</tspan></text></g>
</svg>
</body></html>
